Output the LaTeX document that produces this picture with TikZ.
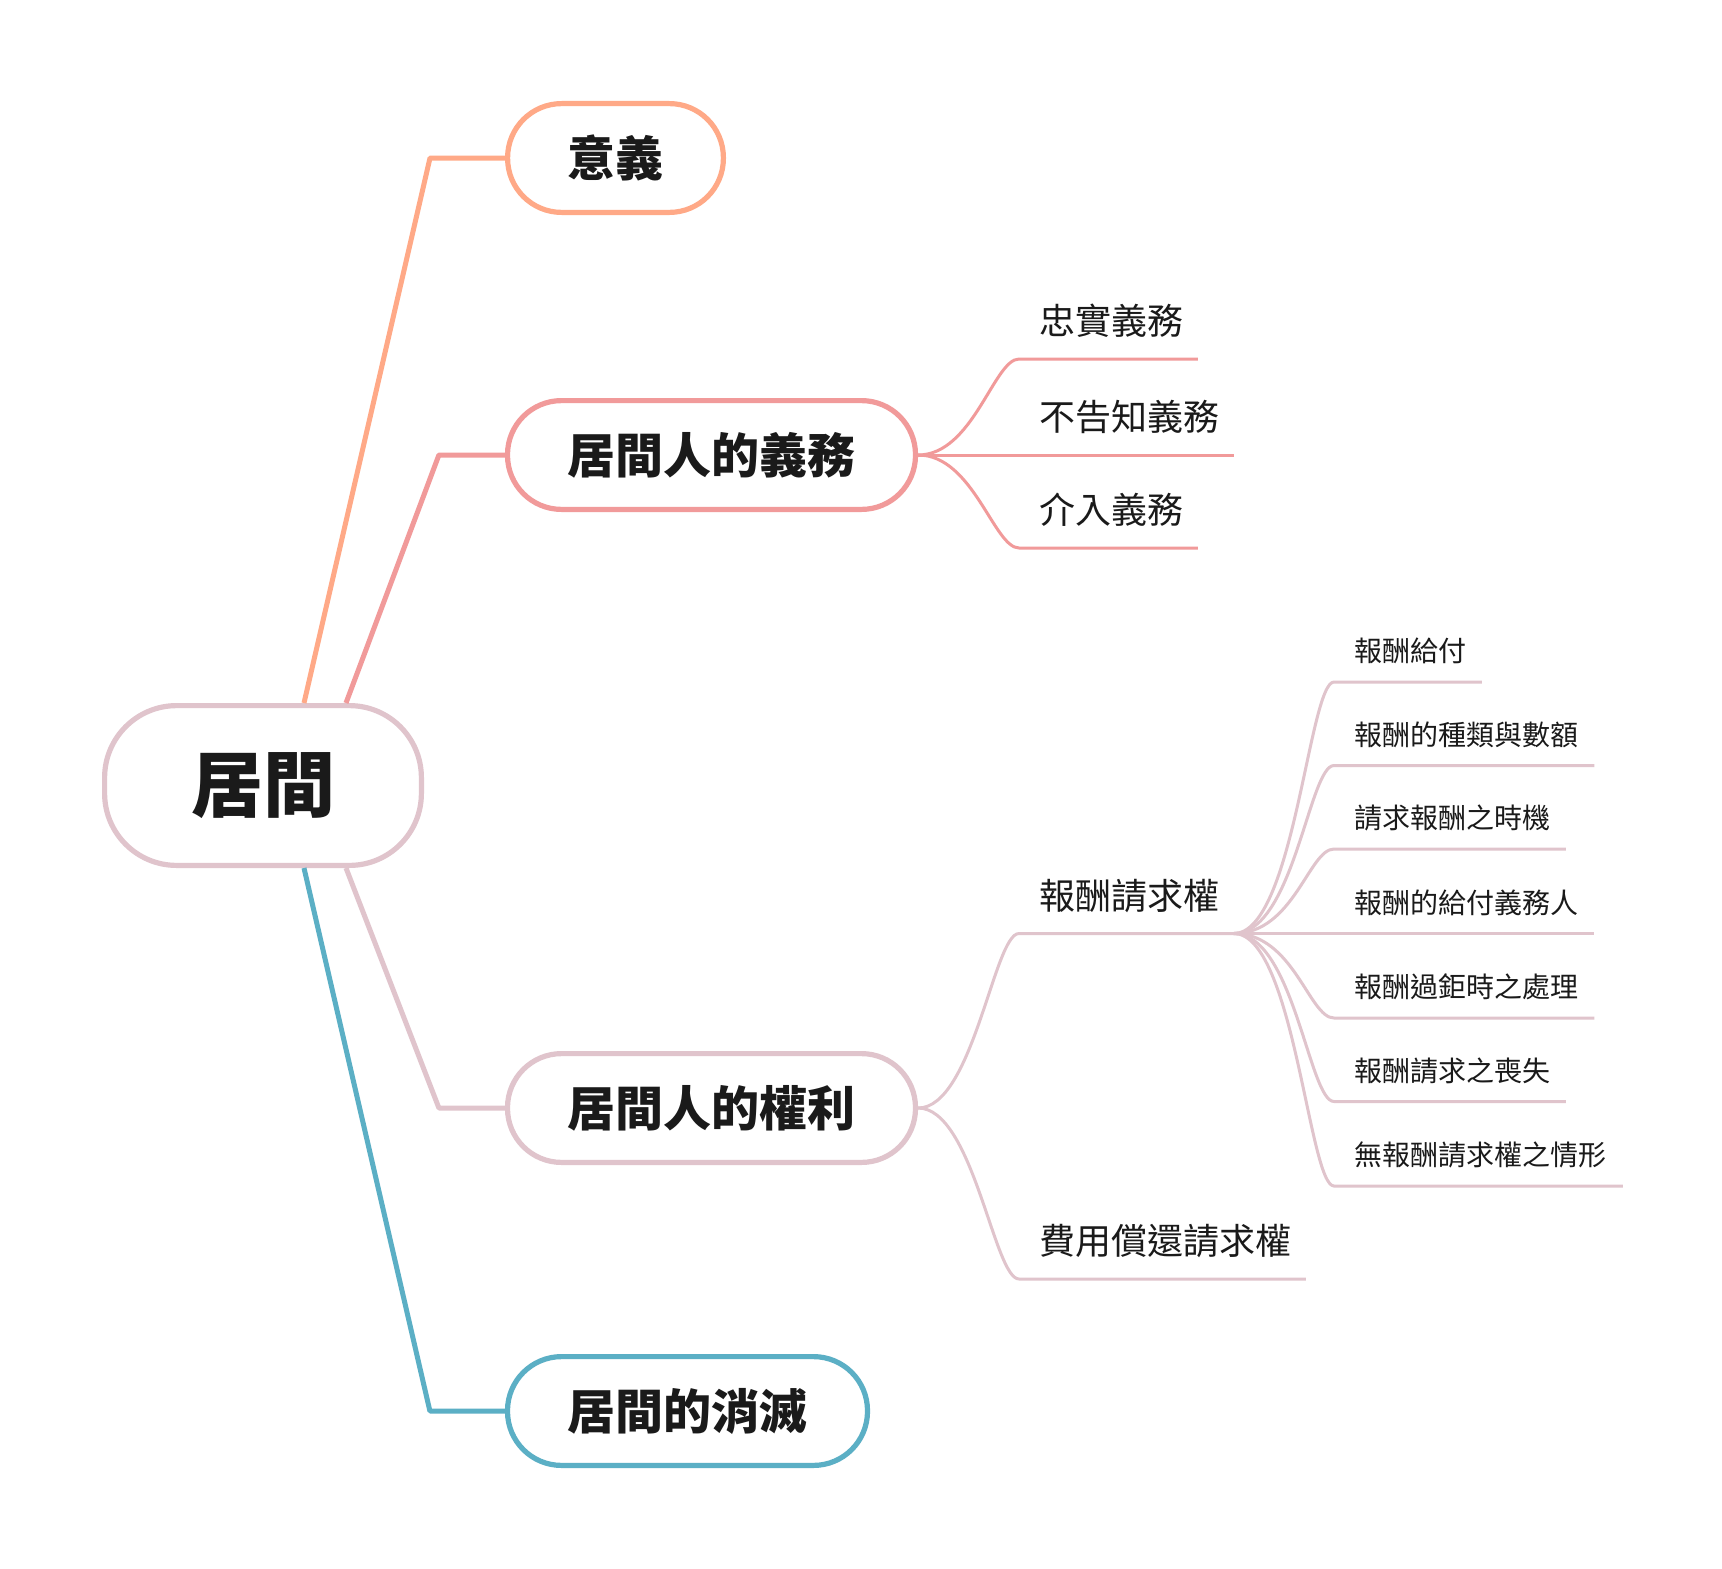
\documentclass[tikz,border=0pt]{standalone}
\usepackage{fontspec}
\setmainfont{Noto Sans CJK TC}
\usetikzlibrary{positioning,calc}
\definecolor{cSense}{HTML}{FFA987}
\definecolor{cDuty}{HTML}{F19A9A}
\definecolor{cRight}{HTML}{E0C4CC}
\definecolor{cEnd}{HTML}{5BAFC5}
\definecolor{ink}{HTML}{1A1A1A}

\begin{document}
\begin{tikzpicture}[
  x=0.5pt, y=-0.5pt, text=ink,
  root/.style  ={draw=cRight, line width=2.6pt, rounded corners=36pt, fill=white,
                 minimum width=158.4pt, minimum height=79.9pt,
                 font=\fontsize{36}{40}\selectfont\bfseries},
  topic/.style ={draw=#1, line width=2.6pt, rounded corners=27pt, fill=white,
                 minimum height=54.4pt, font=\fontsize{24}{28}\selectfont\bfseries},
  leaf/.style  ={anchor=south west, inner xsep=10pt, inner ysep=8pt, align=left,
                 text height=0.8em, text depth=0.2em},
  sub/.style   ={leaf, inner ysep=10pt, font=\fontsize{18}{22}\selectfont},
  subsub/.style={leaf, font=\fontsize{14}{18}\selectfont},
  br/.style    ={draw=#1, line width=2.5pt, line join=round},
  tw/.style    ={draw=#1, line width=1.5pt}]

\fill[white] (0,0) rectangle (1722,1568);

% main topics
\node[root] (root) at (263,785.5) {居間};
\node[topic=cSense, minimum width=107.9pt] (sense) at (615.5,158) {意義};
\node[topic=cDuty,  minimum width=204pt]   (duty)  at (711.5,455) {居間人的義務};
\node[topic=cRight, minimum width=204pt]   (right) at (711.5,1108) {居間人的權利};
\node[topic=cEnd,   minimum width=180pt]   (close) at (687.5,1411) {居間的消滅};

\draw[br=cSense] ($(root.north)+(41,0)$) -- ($(sense.west)+(-75,0)$) -- (sense.west);
\draw[br=cDuty]  ($(root.north)+(83,0)$) -- ($(duty.west)+(-66,0)$) -- (duty.west);
\draw[br=cRight] ($(root.south)+(83,0)$) -- ($(right.west)+(-66,0)$) -- (right.west);
\draw[br=cEnd]   ($(root.south)+(41,0)$) -- ($(close.west)+(-75,0)$) -- (close.west);

% duties
\node[sub, text width=69pt] (loyal)  at (1019,359) {忠實義務};
\node[sub, text width=87pt] (silent) at (1019,455) {不告知義務};
\node[sub, text width=69pt] (inter)  at (1019,548) {介入義務};

\foreach \n in {loyal,silent,inter}
  \draw[tw=cDuty] (duty.east) .. controls +(55,0) and +(-25,0) .. (\n.south west)
    -- (\n.south east);

% rights
\node[sub, text width=87pt]  (pay)  at (1019,933.5) {報酬請求權};
\node[sub, text width=123pt] (cost) at (1019,1279) {費用償還請求權};

\foreach \n in {pay,cost}
  \draw[tw=cRight] (right.east) .. controls +(55,0) and +(-25,0) .. (\n.south west)
    -- (\n.south east);

\node[subsub, text width=53.5pt]  (give)   at (1334,682)    {報酬給付};
\node[subsub, text width=109.8pt] (kind)   at (1334,765.5)  {報酬的種類與數額};
\node[subsub, text width=95.5pt]  (time)   at (1334,849)    {請求報酬之時機};
\node[subsub, text width=109.8pt] (payer)  at (1334,933.5)  {報酬的給付義務人};
\node[subsub, text width=109.8pt] (excess) at (1334,1018)   {報酬過鉅時之處理};
\node[subsub, text width=95.5pt]  (loss)   at (1334,1101.5) {報酬請求之喪失};
\node[subsub, text width=124pt]   (none)   at (1334,1186)   {無報酬請求權之情形};

\foreach \n in {give,kind,time,payer,excess,loss,none}
  \draw[tw=cRight] (pay.south east) .. controls +(60,0) and +(-25,0) .. (\n.south west)
    -- (\n.south east);
\end{tikzpicture}
\end{document}
